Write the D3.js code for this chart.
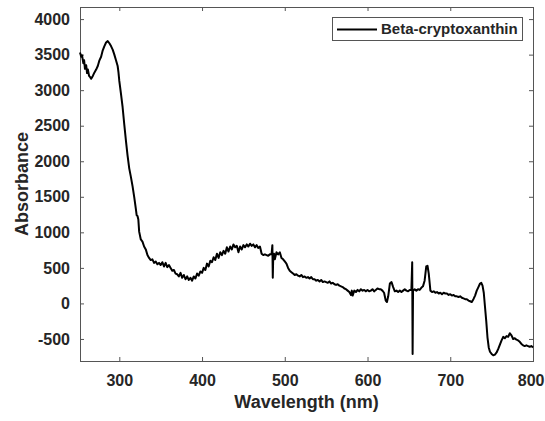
<!DOCTYPE html>
<html>
<head>
<meta charset="utf-8">
<script src="https://cdn.jsdelivr.net/npm/d3@7"></script>
<style>
  body { margin: 0; background: #fff; }
  .chart text { font-family: "Liberation Sans", Arial, sans-serif; font-weight: bold; fill: #262626; }
</style>
</head>
<body>
<div class="chart"></div>
<script>
// spectrum (nm, absorbance)
var wavelength = [252.5,254,255,256.5,257.5,258.5,260,261,262,263.5,265,266,268,270,272,274,276,278,280,282,284,286,288,290,292,294,296,298,299,300,
  302,304,306,308,310,312,314,316,318,320,321,322,323,324,326,328,330,332,334,336,338,340,342,344,346,348,350,352,354,356,358,360,
  362,364,366,368,370,372,374,376,378,380,382,384,386,388,390,392,394,396,398,400,402,404,406,408,410,412,414,416,418,420,
  422,424,426,428,430,432,434,436,438,440,442,444,446,448,450,452,454,456,458,460,462,464,466,468,470,472,474,476,478,480,
  482,484,485,485.5,486,487,488,490,492,494,496,498,500,502,504,506,508,510,512,514,516,518,520,522,524,526,528,530,532,534,536,538,540,
  542,544,546,548,550,552,554,556,558,560,562,564,566,568,570,572,574,576,578,580,581,582,584,586,588,590,592,594,596,598,600,
  602,604,606,608,610,612,614,616,618,620,622,623.5,625,627,629,631,633,635,637,639,641,643,645,647,649,651,653,654,654.5,655,
  657,659,661,663,665,667,669,671,672.5,674,676,678,680,682,684,686,688,690,692,694,696,698,700,702,704,706,708,710,712,714,
  716,718,720,722,724,726,728,730,732,734,736,737.5,739,740.5,742,743.5,745,746.5,748,750,752,754,756,758,760,762,764,766,768,
  770,772,774,776,778,780,782,784,786,788,790,792,794,796,798,800];
var absorbance = [3530,3470,3490,3380,3420,3300,3350,3240,3290,3200,3180,3160,3200,3250,3290,3340,3420,3470,3560,3620,3670,3690,3660,3620,3570,3500,3420,3340,3250,3130,
  2950,2760,2520,2290,2080,1900,1780,1650,1500,1330,1240,1230,1180,1010,900,870,800,760,680,640,610,620,570,590,550,570,540,580,520,570,510,540,
  500,460,470,420,410,380,430,360,400,340,380,330,360,320,380,350,420,390,450,430,500,470,560,520,600,580,650,610,700,640,
  720,680,740,700,790,730,800,760,830,790,810,720,800,760,820,790,830,800,840,810,830,790,820,780,800,700,680,690,680,670,
  690,690,820,360,640,700,620,720,690,720,640,620,590,560,500,460,440,420,400,410,390,380,400,370,380,360,370,350,370,340,340,320,330,
  310,330,300,310,300,290,310,280,290,270,260,270,250,240,230,210,200,180,160,120,180,110,180,160,190,170,200,180,190,170,190,
  170,180,200,170,190,210,200,200,180,150,40,20,100,280,300,230,170,180,160,180,160,180,200,180,170,190,190,580,-710,180,
  200,180,200,190,220,240,320,520,530,420,180,160,170,150,160,140,150,130,150,140,140,120,130,110,120,100,100,90,100,80,
  70,60,60,40,30,20,60,110,180,230,280,290,250,150,-50,-250,-480,-620,-680,-710,-730,-720,-690,-640,-580,-520,-470,-490,-460,
  -470,-420,-450,-500,-490,-510,-520,-540,-570,-590,-600,-590,-600,-610,-600,-620];
var seriesName = "Beta-cryptoxanthin";
var xTicks = [300,400,500,600,700,800];
var yTicks = [-500,0,500,1000,1500,2000,2500,3000,3500,4000];

function drawChart(){
    var w = 545, h = 421;
    var left = 80, right = 533, top = 7, bottom = 361;
    var svg = d3.select(".chart")
                .append("svg")
                .attr("width", w)
                .attr("height", h);

    var xScale = d3.scaleLinear().domain([252.5, 800]).range([left, right]);
    var yScale = d3.scaleLinear().domain([-810, 4170]).range([bottom, top]);

    var data = wavelength.map(function(d, i){ return {x: d, y: absorbance[i]}; });
    var plain = function(d){ return String(d); }; // hyphen minus like the original

    // bottom + top axes, ticks pointing inward
    var xAxis = d3.axisBottom(xScale).tickValues(xTicks).tickSize(-4).tickPadding(10).tickFormat(plain);
    svg.append("g")
       .attr("class", "xAxis")
       .attr("transform", `translate(0,${bottom})`)
       .call(xAxis)
       .call(g => {
           g.selectAll("text").style("font-size", "16px").attr("y", 14).attr("dy", "0.71em");
           // last label sits at the window edge, keep it inside
           g.selectAll("text").filter(d => d === xTicks[xTicks.length - 1])
            .attr("text-anchor", "end").attr("x", w - 1 - right);
           g.selectAll("line").attr("stroke", "#555");
           g.select(".domain").remove();
       });
    svg.append("g")
       .attr("transform", `translate(0,${top})`)
       .call(d3.axisTop(xScale).tickValues(xTicks).tickSize(-4).tickFormat(""))
       .call(g => { g.selectAll("line").attr("stroke", "#555"); g.select(".domain").remove(); });

    // left + right axes
    var yAxis = d3.axisLeft(yScale).tickValues(yTicks).tickSize(-4).tickPadding(10).tickFormat(plain);
    svg.append("g")
       .attr("class", "yAxis")
       .attr("transform", `translate(${left},0)`)
       .call(yAxis)
       .call(g => {
           g.selectAll("text").style("font-size", "16px");
           g.selectAll("line").attr("stroke", "#555");
           g.select(".domain").remove();
       });
    svg.append("g")
       .attr("transform", `translate(${right},0)`)
       .call(d3.axisRight(yScale).tickValues(yTicks).tickSize(-4).tickFormat(""))
       .call(g => { g.selectAll("line").attr("stroke", "#555"); g.select(".domain").remove(); });

    // box
    svg.append("rect")
       .attr("x", left + 0.5).attr("y", top + 0.5)
       .attr("width", right - left).attr("height", bottom - top)
       .attr("fill", "none").attr("stroke", "#555").attr("stroke-width", 1);

    // spectrum
    var line = d3.line()
                 .x(function(d){ return xScale(d.x); })
                 .y(function(d){ return yScale(d.y); });
    svg.append("path")
       .datum(data)
       .attr("fill", "none")
       .attr("stroke", "#000")
       .attr("stroke-width", 2)
       .attr("stroke-linejoin", "round")
       .attr("d", line);

    // axis titles
    svg.append("text")
       .attr("x", (left + right) / 2)
       .attr("y", 408)
       .attr("text-anchor", "middle")
       .style("font-size", "18px")
       .text("Wavelength (nm)");
    svg.append("text")
       .attr("transform", `translate(28,${(top + bottom) / 2}) rotate(-90)`)
       .attr("text-anchor", "middle")
       .style("font-size", "18px")
       .text("Absorbance");

    // legend
    var legend = svg.append("g").attr("class", "gLegend").attr("transform", "translate(332,17)");
    legend.append("rect")
          .attr("x", 0.5).attr("y", 0.5)
          .attr("width", 190).attr("height", 23)
          .attr("fill", "#fff").attr("stroke", "#555");
    legend.append("line")
          .attr("x1", 5).attr("x2", 45)
          .attr("y1", 12.5).attr("y2", 12.5)
          .attr("stroke", "#000").attr("stroke-width", 2);
    legend.append("text")
          .attr("x", 49).attr("y", 17)
          .style("font-size", "15px")
          .text(seriesName);
}

drawChart();
</script>
</body>
</html>
